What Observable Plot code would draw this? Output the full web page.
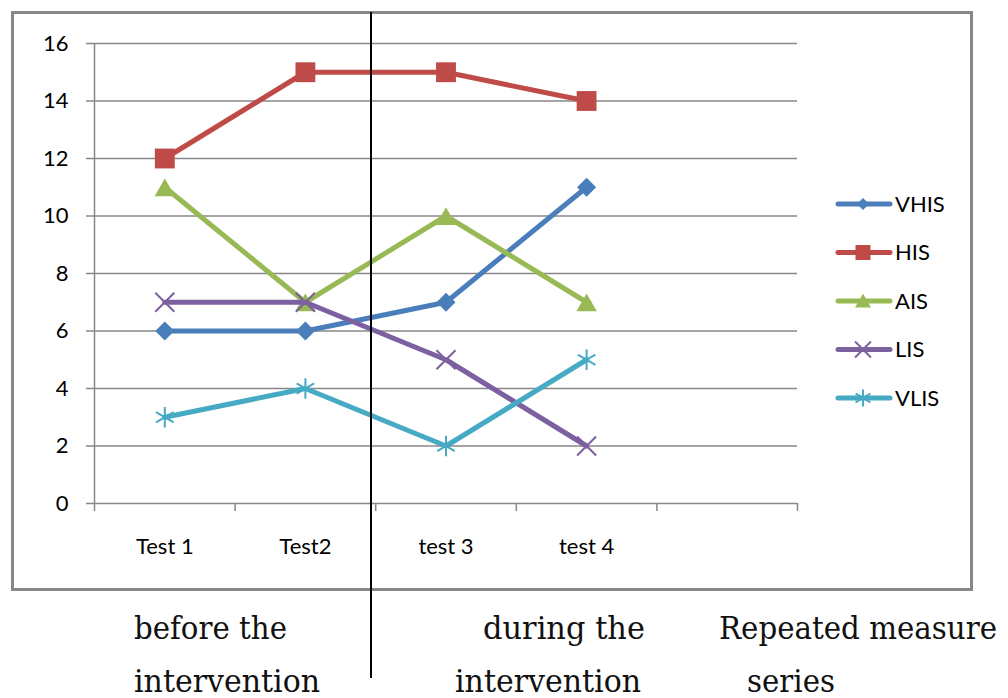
<!DOCTYPE html>
<html>
<head>
<meta charset="utf-8">
<script src="https://cdn.jsdelivr.net/npm/d3@7"></script>
<script src="https://cdn.jsdelivr.net/npm/@observablehq/plot@0.6"></script>
<style>
  html, body { margin: 0; padding: 0; background: #fff; }
  #page { position: relative; width: 1008px; height: 698px; overflow: hidden; }
  #frame { position: absolute; left: 11px; top: 11px; width: 962px; height: 580px; box-sizing: border-box; border: 3px solid #878787; }
  #chart { position: absolute; left: 0; top: 0; }
  #overlay { position: absolute; left: 0; top: 0; }
</style>
</head>
<body>
<div id="page">
  <div id="frame"></div>
  <div id="chart"></div>
  <svg id="overlay" width="1008" height="698"></svg>
</div>
<script>
// ---- data ----
const categories = ["Test 1", "Test2", "test 3", "test 4"];
const seriesNames = ["VHIS", "HIS", "AIS", "LIS", "VLIS"];
const VHIS = [6, 6, 7, 11];
const HIS  = [12, 15, 15, 14];
const AIS  = [11, 7, 10, 7];
const LIS  = [7, 7, 5, 2];
const VLIS = [3, 4, 2, 5];
const yTicks = [0, 2, 4, 6, 8, 10, 12, 14, 16];
const colors = ["#4A7EBB", "#BE4B48", "#98B954", "#7D60A0", "#46AAC5"];
const symbols = ["diamond2", "square", "triangle", "times", "asterisk"];
const noteLines = [
  ["before the", "intervention"],
  ["during the", "intervention"],
  ["Repeated measure", "series"]
];

const seriesValues = {VHIS, HIS, AIS, LIS, VLIS};
const rows = [];
seriesNames.forEach(s => {
  seriesValues[s].forEach((v, i) => rows.push({series: s, cat: categories[i], pos: i + 0.5, value: v}));
});

const grid = "#878787";
const markerSpec = {
  diamond2: {r: 8.6, filled: true, dy: 0},
  square:   {r: 11.2, filled: true, dy: 0},
  triangle: {r: 7.6, filled: true, dy: 3},
  times:    {r: 8.7, filled: false, dy: 0},
  asterisk: {r: 9.6, filled: false, dy: 0}
};

const marks = [
  Plot.ruleY(yTicks.filter(d => d > 0), {stroke: grid, strokeWidth: 1.5}),
  Plot.axisY(yTicks, {tickSize: 8, tickPadding: 18, fontSize: 22, stroke: grid, strokeWidth: 1.5, strokeOpacity: 1, fill: "#000", label: null}),
  Plot.axisX([0, 1, 2, 3, 4, 5], {tickSize: 8, tickFormat: () => "", stroke: grid, strokeWidth: 1.5, strokeOpacity: 1, label: null}),
  Plot.ruleX([0], {stroke: grid, strokeWidth: 1.5}),
  Plot.ruleY([0], {stroke: grid, strokeWidth: 1.5}),
  Plot.text(categories, {x: (d, i) => i + 0.5, y: () => 0, dy: 43, text: d => d, fontSize: 22, fill: "#000"})
];

seriesNames.forEach((s, k) => {
  const data = rows.filter(r => r.series === s);
  const sym = symbols[k];
  const spec = markerSpec[sym];
  marks.push(Plot.line(data, {x: "pos", y: "value", stroke: colors[k], strokeWidth: 5, strokeLinejoin: "round", strokeLinecap: "round"}));
  if (spec.filled) {
    marks.push(Plot.dot(data, {x: "pos", y: "value", symbol: sym, r: spec.r, fill: colors[k], stroke: "none", dy: spec.dy}));
  } else {
    marks.push(Plot.dot(data, {x: "pos", y: "value", symbol: sym, r: spec.r, fill: "none", stroke: colors[k], strokeWidth: 2}));
  }
});

const chart = Plot.plot({
  width: 1008,
  height: 600,
  marginLeft: 94,
  marginRight: 211,
  marginTop: 43,
  marginBottom: 97,
  x: {domain: [0, 5], axis: null},
  y: {domain: [0, 16], axis: null},
  style: {fontFamily: "Lato, 'Noto Sans', sans-serif", background: "transparent", overflow: "visible"},
  marks
});
document.getElementById("chart").appendChild(chart);

// ---- overlay: legend, divider, notes ----
const ov = d3.select("#overlay");
const symMap = {diamond2: d3.symbolDiamond2, square: d3.symbolSquare, triangle: d3.symbolTriangle, times: d3.symbolTimes, asterisk: d3.symbolAsterisk};
const legendSizes = {diamond2: 92, square: 225, triangle: 111, times: 167, asterisk: 205};
seriesNames.forEach((s, k) => {
  const cy = 204 + 48.5 * k;
  const g = ov.append("g").attr("transform", `translate(0,${cy})`);
  g.append("line").attr("x1", 838).attr("x2", 890).attr("y1", 0).attr("y2", 0)
    .attr("stroke", colors[k]).attr("stroke-width", 5).attr("stroke-linecap", "round");
  const sym = symbols[k];
  const filled = markerSpec[sym].filled;
  g.append("path").attr("d", d3.symbol(symMap[sym], legendSizes[sym])())
    .attr("transform", `translate(863,${sym === "triangle" ? 2 : 0})`)
    .attr("fill", filled ? colors[k] : "none")
    .attr("stroke", filled ? "none" : colors[k])
    .attr("stroke-width", filled ? 0 : 2);
  g.append("text").attr("x", 895).attr("y", 0).attr("dy", "0.36em")
    .attr("font-family", "Lato, 'Noto Sans', sans-serif").attr("font-size", 22).attr("fill", "#000").text(s);
});

ov.append("line").attr("x1", 371).attr("x2", 371).attr("y1", 12).attr("y2", 678)
  .attr("stroke", "#000").attr("stroke-width", 2);

const notePos = [
  [{x: 134, y: 639, w: 153}, {x: 134, y: 692, w: 186}],
  [{x: 483, y: 639, w: 162}, {x: 455, y: 692, w: 186}],
  [{x: 719, y: 639, w: 278}, {x: 747, y: 692, w: 88}]
];
noteLines.forEach((lines, i) => {
  lines.forEach((t, j) => {
    const p = notePos[i][j];
    ov.append("text").attr("transform", `translate(${p.x},${p.y}) scale(1,1.07)`)
      .attr("font-family", "'DejaVu Serif', 'Liberation Serif', serif").attr("font-size", 29)
      .attr("textLength", p.w).attr("lengthAdjust", "spacingAndGlyphs")
      .attr("fill", "#111").text(t);
  });
});
</script>
</body>
</html>
